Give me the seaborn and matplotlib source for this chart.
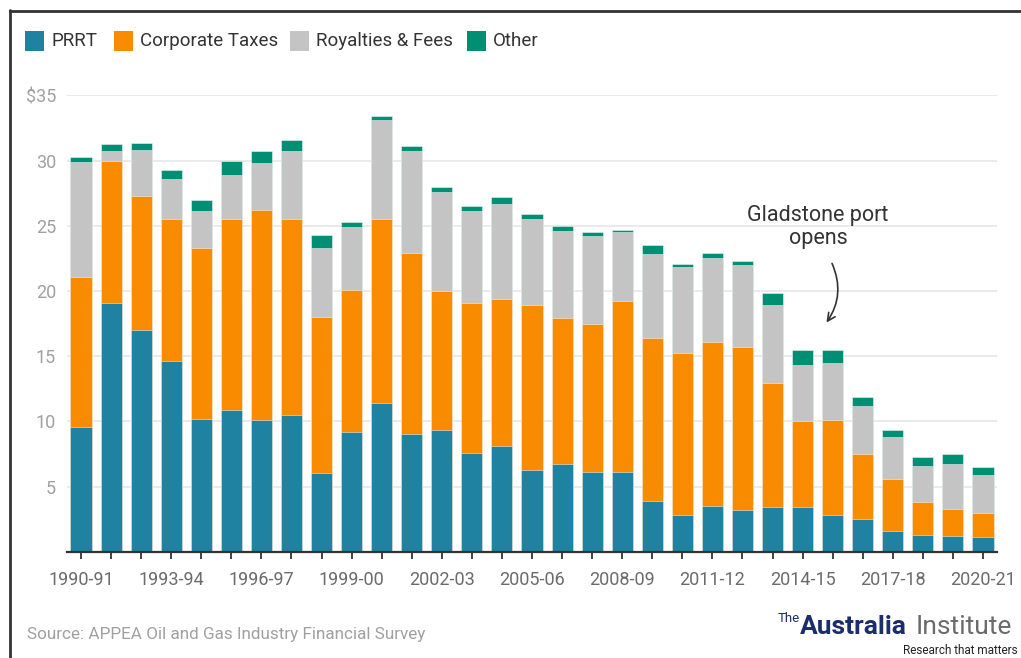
import matplotlib
matplotlib.use("Agg")
import matplotlib.pyplot as plt
from matplotlib.patches import Rectangle
from matplotlib.lines import Line2D
import numpy as np
import pandas as pd
import seaborn as sns

# Financial years, 1990-91 to 2020-21
years = [f"{y}-{str(y + 1)[-2:]}" for y in range(1990, 2021)]

# Government revenue from oil and gas by type ($ billion)
prrt = [9.6, 19.1, 17.0, 14.6, 10.2, 10.9, 10.1, 10.5, 6.0, 9.2,
        11.4, 9.0, 9.3, 7.6, 8.1, 6.3, 6.7, 6.1, 6.1, 3.9,
        2.8, 3.5, 3.2, 3.4, 3.4, 2.8, 2.5, 1.6, 1.3, 1.2, 1.1]
corporate = [11.5, 10.9, 10.3, 10.9, 13.1, 14.6, 16.1, 15.0, 12.0, 10.9,
             14.1, 13.9, 10.7, 11.5, 11.3, 12.6, 11.2, 11.4, 13.1, 12.5,
             12.4, 12.6, 12.5, 9.5, 6.6, 7.3, 5.0, 4.0, 2.5, 2.1, 1.9]
royalties = [8.8, 0.7, 3.5, 3.1, 2.8, 3.4, 3.6, 5.2, 5.3, 4.8,
             7.6, 7.8, 7.6, 7.0, 7.3, 6.6, 6.7, 6.7, 5.3, 6.4,
             6.6, 6.4, 6.3, 6.0, 4.3, 4.4, 3.7, 3.2, 2.8, 3.4, 2.9]
other = [0.35, 0.6, 0.55, 0.7, 0.85, 1.1, 0.95, 0.9, 1.0, 0.35,
         0.35, 0.45, 0.4, 0.4, 0.5, 0.4, 0.35, 0.3, 0.2, 0.7,
         0.3, 0.4, 0.3, 0.95, 1.15, 0.95, 0.65, 0.55, 0.65, 0.8, 0.6]

series_names = ["PRRT", "Corporate Taxes", "Royalties & Fees", "Other"]
series_colors = ["#1f82a1", "#f98b00", "#c4c4c4", "#008f72"]
y_ticks = [5, 10, 15, 20, 25, 30, 35]
y_tick_labels = ["5", "10", "15", "20", "25", "30", "$35"]

df = pd.DataFrame({"year": years, "PRRT": prrt, "Corporate Taxes": corporate,
                   "Royalties & Fees": royalties, "Other": other})
cum = df[series_names].cumsum(axis=1)
cum["year"] = df["year"]

sns.set_theme(style="white")
plt.rcParams["font.family"] = ["Roboto", "DejaVu Sans"]

W, H = 1021, 658
fig = plt.figure(figsize=(W / 100, H / 100), dpi=100)
ax = fig.add_axes([67 / W, 1 - 551.7 / H, 930 / W, (551.7 - 95.3) / H])

# Stacked bars: draw cumulative totals from the top layer down
for name, color in reversed(list(zip(series_names, series_colors))):
    sns.barplot(data=cum, x="year", y=name, order=years, color=color,
                saturation=1, width=0.7, ax=ax, zorder=3,
                edgecolor=(1, 1, 1, 0.55), linewidth=0.6)

ax.set_xlim(-0.465, len(years) - 1 + 0.465)
ax.set_ylim(0, 35)
ax.set_xlabel("")
ax.set_ylabel("")

# Grid
for v in y_ticks:
    ax.axhline(v, color="#e8e8e8", lw=1.3, zorder=1)

for s in ["top", "right", "left"]:
    ax.spines[s].set_visible(False)
ax.spines["bottom"].set_color("#333333")
ax.spines["bottom"].set_linewidth(1.6)
ax.spines["bottom"].set_zorder(5)

ax.set_yticks(y_ticks)
ax.set_yticklabels(y_tick_labels, color="#a0a0a0", fontsize=13)
ax.tick_params(axis="y", length=0, pad=8)

ax.set_xticks(range(len(years)))
ax.set_xticklabels([y if i % 3 == 0 else "" for i, y in enumerate(years)],
                   color="#6b6b6b", fontsize=13)
ax.tick_params(axis="x", length=5, width=1.3, color="#333333", pad=9,
               bottom=True, direction="out")

# Annotation
ax.text(24.51, 24.9, "Gladstone port\nopens", ha="center", va="center",
        fontsize=15.5, color="#333333", linespacing=1.15, zorder=6)
ax.annotate("", xy=(24.74, 17.4), xytext=(24.94, 22.3),
            arrowprops=dict(arrowstyle="->", color="#333333", lw=1.2,
                            connectionstyle="arc3,rad=-0.3",
                            mutation_scale=14), zorder=6)

# Legend
legend_x = [25, 114, 290, 467]
for x0, name, color in zip(legend_x, series_names, series_colors):
    fig.patches.append(Rectangle((x0 / W, 1 - 51 / H), 19 / W, 20 / H,
                                 transform=fig.transFigure, facecolor=color,
                                 edgecolor="none"))
    fig.text((x0 + 26) / W, 1 - 41 / H, name, ha="left", va="center",
             fontsize=13.5, color="#333333")

# Frame lines
fig.add_artist(Line2D([9.5 / W, 9.5 / W], [0, 1 - 10 / H], color="#333333",
                      lw=2, transform=fig.transFigure))
fig.add_artist(Line2D([9.5 / W, 1], [1 - 11 / H, 1 - 11 / H], color="#333333",
                      lw=2, transform=fig.transFigure))

# Footer
fig.text(27 / W, 1 - 635 / H, "Source: APPEA Oil and Gas Industry Financial Survey",
         ha="left", va="center", fontsize=12.3, color="#a0a0a0")
fig.text(800 / W, 1 - 619 / H, "The", ha="right", va="center",
         fontsize=9.5, color="#1b2d6b")
fig.text(800 / W, 1 - 627 / H, "Australia", ha="left", va="center",
         fontsize=19, fontweight="bold", color="#1b2d6b")
fig.text(1012 / W, 1 - 627 / H, "Institute", ha="right", va="center",
         fontsize=19, color="#6b6b6b")
fig.text(1018 / W, 1 - 651 / H, "Research that matters", ha="right", va="center",
         fontsize=8.5, color="#222222")

fig.savefig("out.png", dpi=100, facecolor="white")
